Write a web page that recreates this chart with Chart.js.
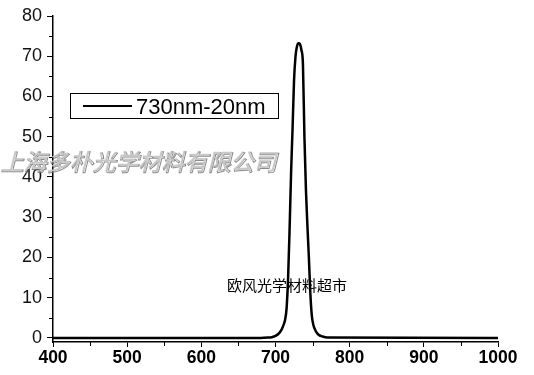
<!DOCTYPE html>
<html>
<head>
<meta charset="utf-8">
<script src="https://cdn.jsdelivr.net/npm/chart.js@4.4.1/dist/chart.umd.min.js"></script>
<style>
html,body{margin:0;padding:0;background:#fff;}
#wrap{position:relative;width:534px;height:375px;}
</style>
</head>
<body>
<div id="wrap"><canvas id="c" width="534" height="375"></canvas></div>
<script>
const wavelengths = [400, 680, 690, 695, 700, 705, 708, 711, 713, 715, 717, 719, 721, 723, 725, 727, 729, 731, 733, 735, 737, 739, 741, 743, 745, 747, 749, 751, 754, 758, 763, 770, 1000];
const transmission = [0, 0, 0.1, 0.2, 0.5, 1.2, 2.0, 3.3, 4.6, 7.5, 15, 27, 41, 52, 64, 70, 72.5, 73.2, 73, 71.5, 68, 50, 37, 28, 20, 11, 5.5, 3.3, 1.8, 0.8, 0.4, 0.1, 0];
const seriesName = '730nm-20nm';
const yTicks = [0, 10, 20, 30, 40, 50, 60, 70, 80];
const yMinorTicks = [5, 15, 25, 35, 45, 55, 65, 75];
const xTicks = [400, 500, 600, 700, 800, 900, 1000];
const xMinorTicks = [450, 550, 650, 750, 850, 950];
const watermarkCompany = '上海多朴光学材料有限公司';
const watermarkShop = '欧风光学材料超市';

const points = wavelengths.map((w, i) => ({x: w, y: transmission[i]}));

const decor = {
  id: 'decor',
  afterDraw(chart) {
    const ctx = chart.ctx;
    const xs = chart.scales.x, ys = chart.scales.y;
    ctx.save();
    // minor ticks
    ctx.strokeStyle = '#000';
    ctx.lineWidth = 1;
    ctx.beginPath();
    yMinorTicks.forEach(v => {
      const py = Math.round(ys.getPixelForValue(v)) + 0.5;
      ctx.moveTo(xs.left - 4, py); ctx.lineTo(xs.left, py);
    });
    xMinorTicks.forEach(v => {
      const px = Math.round(xs.getPixelForValue(v)) + 0.5;
      ctx.moveTo(px, ys.bottom); ctx.lineTo(px, ys.bottom + 4);
    });
    ctx.stroke();
    // legend
    ctx.fillStyle = '#fff';
    ctx.fillRect(70, 93, 208, 25);
    ctx.strokeStyle = '#000';
    ctx.lineWidth = 1;
    ctx.strokeRect(70.5, 93.5, 208, 25);
    ctx.lineWidth = 2;
    ctx.beginPath(); ctx.moveTo(83, 106); ctx.lineTo(132, 106); ctx.stroke();
    ctx.fillStyle = '#000';
    ctx.font = '22px "Liberation Sans", Arial, sans-serif';
    ctx.textBaseline = 'alphabetic';
    ctx.textAlign = 'left';
    ctx.fillText(seriesName, 136, 114);
    // company watermark
    ctx.font = 'italic 23px "Noto Sans CJK SC", sans-serif';
    ctx.textBaseline = 'middle';
    ctx.lineWidth = 1;
    ctx.strokeStyle = 'rgba(110,110,110,0.8)';
    ctx.strokeText(watermarkCompany, 1, 162);
    ctx.fillStyle = 'rgba(205,205,205,0.9)';
    ctx.fillText(watermarkCompany, 0, 161);
    ctx.restore();
  },
  beforeDatasetsDraw(chart) {
    const ctx = chart.ctx;
    ctx.save();
    ctx.font = '15px "Noto Sans CJK SC", sans-serif';
    ctx.fillStyle = '#000';
    ctx.textBaseline = 'middle';
    ctx.textAlign = 'left';
    ctx.fillText(watermarkShop, 227, 285);
    ctx.restore();
  }
};

new Chart(document.getElementById('c'), {
  type: 'line',
  data: {
    datasets: [{
      label: seriesName,
      data: points,
      borderColor: '#000',
      borderWidth: 2.5,
      pointRadius: 0,
      fill: false,
      cubicInterpolationMode: 'monotone'
    }]
  },
  options: {
    responsive: false,
    animation: false,
    devicePixelRatio: 1,
    layout: {padding: {top: 16, right: 36, left: 0, bottom: 0}},
    plugins: {legend: {display: false}, tooltip: {enabled: false}},
    scales: {
      x: {
        type: 'linear',
        min: 400, max: 1000,
        afterBuildTicks: s => { s.ticks = xTicks.map(v => ({value: v})); },
        afterFit: s => { s.height = 33; },
        border: {color: '#000', width: 1.5},
        grid: {drawOnChartArea: false, tickLength: 5, tickColor: '#000', tickWidth: 1},
        ticks: {
          color: '#000',
          font: {family: '"Liberation Sans", Arial, sans-serif', size: 17.5, weight: 'bold'},
          padding: 1,
          maxRotation: 0,
          autoSkip: false,
          callback: v => String(v)
        }
      },
      y: {
        type: 'linear',
        min: -1, max: 80,
        afterBuildTicks: s => { s.ticks = yTicks.map(v => ({value: v})); },
        afterFit: s => { s.width = 53; },
        border: {color: '#000', width: 1.5},
        grid: {drawOnChartArea: false, tickLength: 6, tickColor: '#000', tickWidth: 1},
        ticks: {
          color: '#111',
          font: {family: '"Liberation Sans", Arial, sans-serif', size: 18},
          padding: 5,
          autoSkip: false,
          callback: v => String(v)
        }
      }
    }
  },
  plugins: [decor]
});
</script>
</body>
</html>
